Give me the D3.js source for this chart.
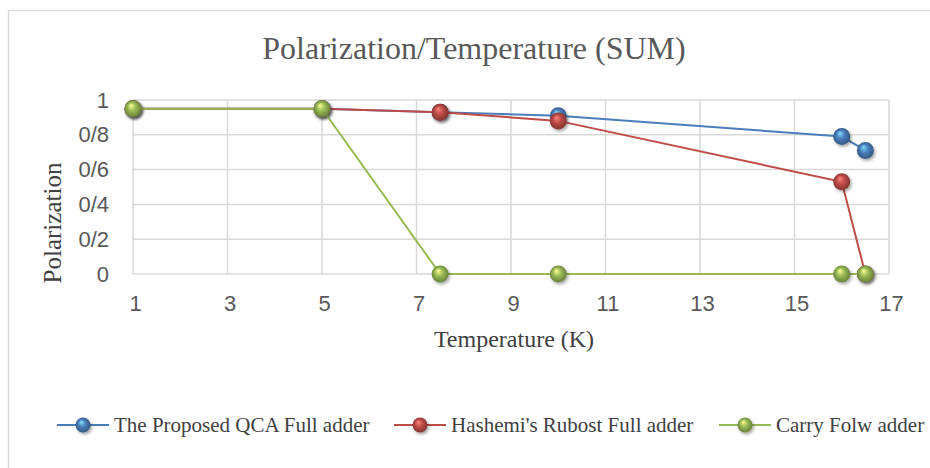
<!DOCTYPE html>
<html>
<head>
<meta charset="utf-8">
<script src="https://cdn.jsdelivr.net/npm/d3@7"></script>
<style>
  body { margin: 0; background: #fff; }
  svg { display: block; }
</style>
</head>
<body>
<div id="chart"></div>
<script>
// temperatures (K) and polarization
let temps = [1, 5, 7.5, 10, 16, 16.5]
let proposedQca = [0.95, 0.95, 0.93, 0.91, 0.79, 0.71]
let hashemiRobust = [0.95, 0.95, 0.93, 0.88, 0.53, 0]
let carryFlow = [0.95, 0.95, 0, 0, 0, 0]
let xTicks = [1, 3, 5, 7, 9, 11, 13, 15, 17]
let yTicks = [0, 0.2, 0.4, 0.6, 0.8, 1]
let yTickLabels = ['0', '0/2', '0/4', '0/6', '0/8', '1']
let seriesNames = ['The Proposed QCA Full adder', "Hashemi's Rubost Full adder", 'Carry Folw adder']

let colors = ['#4a7ebb', '#be4b48', '#98b954']
let seriesVals = [proposedQca, hashemiRobust, carryFlow]

var width = 930
var height = 468
var plot = {left: 133, right: 889, top: 100, bottom: 274}

var svg = d3.select('#chart')
  .append('svg')
  .attr('width', width)
  .attr('height', height)

// gradients for the little 3d balls
var defs = svg.append('defs')
colors.forEach(function (c, i) {
  var g = defs.append('radialGradient')
    .attr('id', 'ball' + i)
    .attr('cx', '50%').attr('cy', '50%').attr('r', '55%')
    .attr('fx', '38%').attr('fy', '30%')
  g.append('stop').attr('offset', '0%').attr('stop-color', d3.color(c).brighter(1.6))
  g.append('stop').attr('offset', '45%').attr('stop-color', c)
  g.append('stop').attr('offset', '100%').attr('stop-color', d3.color(c).darker(1.2))
})
var shadow = defs.append('filter').attr('id', 'shadow')
  .attr('x', '-50%').attr('y', '-50%').attr('width', '200%').attr('height', '200%')
shadow.append('feDropShadow')
  .attr('dx', 1.5).attr('dy', 2).attr('stdDeviation', 1.5)
  .attr('flood-color', '#000').attr('flood-opacity', 0.35)

// chart frame
svg.append('rect')
  .attr('x', 8.5).attr('y', 10.5)
  .attr('width', 940).attr('height', 480)
  .attr('fill', 'none')
  .attr('stroke', '#d9d9d9')
  .attr('stroke-width', 1.5)

var x = d3.scaleLinear()
  .domain([1, 17])
  .range([plot.left, plot.right])

var y = d3.scaleLinear()
  .domain([0, 1])
  .range([plot.bottom, plot.top])

// grid lines
svg.append('g')
  .selectAll('line.h')
  .data(yTicks)
  .enter().append('line')
  .attr('x1', plot.left).attr('x2', plot.right)
  .attr('y1', d => y(d)).attr('y2', d => y(d))
  .attr('stroke', '#d9d9d9').attr('stroke-width', 1.5)

svg.append('g')
  .selectAll('line.v')
  .data(xTicks)
  .enter().append('line')
  .attr('x1', d => x(d)).attr('x2', d => x(d))
  .attr('y1', plot.top).attr('y2', plot.bottom)
  .attr('stroke', '#d9d9d9').attr('stroke-width', 1.5)

// axes, just for their labels
var xAxis = svg.append('g')
  .attr('transform', 'translate(0,' + plot.bottom + ')')
  .call(d3.axisBottom(x).tickValues(xTicks).tickSize(0).tickPadding(21))
var yAxis = svg.append('g')
  .attr('transform', 'translate(' + plot.left + ',0)')
  .call(d3.axisLeft(y).tickValues(yTicks).tickSize(0).tickPadding(24)
    .tickFormat((d, i) => yTickLabels[i]))
;[xAxis, yAxis].forEach(function (a) {
  a.select('.domain').remove()
  a.selectAll('text')
    .attr('font-family', 'Liberation Sans, Arial, sans-serif')
    .attr('font-size', 22)
    .attr('fill', '#595959')
})
xAxis.selectAll('text').attr('dx', 2)

// titles
svg.append('text')
  .attr('x', 474).attr('y', 59)
  .attr('text-anchor', 'middle')
  .attr('font-family', 'Liberation Serif, Times New Roman, serif')
  .attr('font-size', 32)
  .attr('fill', '#595959')
  .text('Polarization/Temperature (SUM)')

svg.append('text')
  .attr('x', 514).attr('y', 347)
  .attr('text-anchor', 'middle')
  .attr('font-family', 'Liberation Serif, Times New Roman, serif')
  .attr('font-size', 24)
  .attr('fill', '#404040')
  .text('Temperature (K)')

svg.append('text')
  .attr('transform', 'translate(61,223) rotate(-90)')
  .attr('text-anchor', 'middle')
  .attr('font-family', 'Liberation Serif, Times New Roman, serif')
  .attr('font-size', 25)
  .attr('fill', '#404040')
  .text('Polarization')

// series, drawn back to front so green sits on top
var line = d3.line()
  .x(d => x(d[0]))
  .y(d => y(d[1]))

seriesVals.forEach(function (vals, i) {
  var pts = temps.map((t, j) => [t, vals[j]])
  var g = svg.append('g')
  g.append('path')
    .datum(pts)
    .attr('d', line)
    .attr('fill', 'none')
    .attr('stroke', colors[i])
    .attr('stroke-width', 2)
  g.selectAll('circle')
    .data(pts)
    .enter().append('circle')
    .attr('cx', d => x(d[0]))
    .attr('cy', d => y(d[1]))
    .attr('r', 8.5)
    .attr('fill', 'url(#ball' + i + ')')
    .attr('filter', 'url(#shadow)')
})

// legend
var legendX = [57, 394, 719]
var legend = svg.append('g')
  .selectAll('g')
  .data(seriesNames)
  .enter().append('g')
  .attr('transform', (d, i) => 'translate(' + legendX[i] + ',425)')
legend.append('line')
  .attr('x1', 0).attr('x2', 52)
  .attr('stroke', (d, i) => colors[i])
  .attr('stroke-width', 2)
legend.append('circle')
  .attr('cx', 26).attr('r', 7.5)
  .attr('fill', (d, i) => 'url(#ball' + i + ')')
  .attr('filter', 'url(#shadow)')
legend.append('text')
  .attr('x', 57).attr('y', 7)
  .attr('font-family', 'Liberation Serif, Times New Roman, serif')
  .attr('font-size', 21)
  .attr('fill', '#404040')
  .text(d => d)
</script>
</body>
</html>
